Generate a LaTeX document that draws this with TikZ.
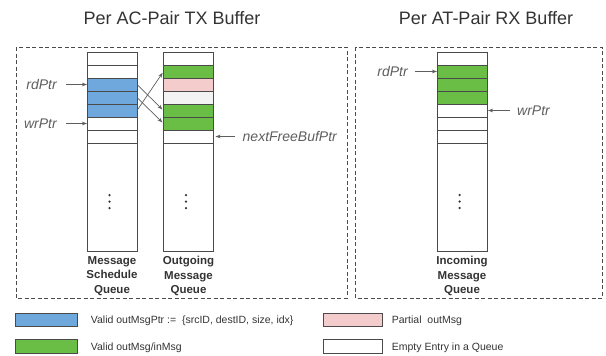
\documentclass[tikz,border=0pt]{standalone}
\usepackage{fontspec}
\setmainfont{Liberation Sans}
\usetikzlibrary{arrows.meta,calc}

\definecolor{cellblue}{HTML}{6FA8DC}
\definecolor{cellgreen}{HTML}{6ABD45}
\definecolor{cellpink}{HTML}{F4CCCC}
\definecolor{cellgray}{HTML}{F3F3F3}
\definecolor{edge}{HTML}{4A4A4A}
\definecolor{ink}{HTML}{333333}
\definecolor{ptr}{HTML}{5E5E5E}

\tikzset{
  cell/.style={draw=edge, line width=0.9pt, minimum width=50pt, minimum height=13pt,
    inner sep=0pt, outer sep=0pt, anchor=north west},
  tailcell/.style={cell, minimum height=108pt},
  region/.style={draw=edge, line width=0.8pt, dash pattern=on 4pt off 2.5pt},
  ptrlabel/.style={font=\fontsize{14}{16}\selectfont\itshape, text=ptr, inner sep=0pt,
    text height=10pt, text depth=0pt},
  ptrarrow/.style={draw=ptr, line width=0.7pt, -{Stealth[length=5pt,width=3.6pt]}},
  qlabel/.style={font=\fontsize{11.5}{14.5}\selectfont\bfseries, text=ink, align=center,
    inner sep=0pt, anchor=north},
  titlelabel/.style={font=\fontsize{18}{20}\selectfont, text=ink, inner sep=0pt},
  legtext/.style={font=\fontsize{10.5}{12}\selectfont, text=ink, anchor=west, inner sep=0pt,
    text height=7.5pt, text depth=0pt},
  legbox/.style={draw=edge, line width=0.8pt, minimum height=13.5pt, inner sep=0pt,
    outer sep=0pt, anchor=north west},
  dot/.style={fill=ink},
}

\begin{document}
\begin{tikzpicture}[x=1pt,y=-1pt]
\useasboundingbox (0,0) rectangle (606,356);

% dashed regions
\draw[region] (16,47) rectangle (347,298);
\draw[region] (355,47) rectangle (602,298);

% titles
\node[titlelabel] (txtitle) at (172,18) {Per AC-Pair TX Buffer};
\node[titlelabel] (rxtitle) at (486,18) {Per AT-Pair RX Buffer};

% message schedule queue
\foreach \c [count=\i] in {white,white,cellblue,cellblue,cellblue,white,white}
  \node[cell, fill=\c] (ms\i) at (87,{52+13*(\i-1)}) {};
\node[tailcell] (msb) at (87,143) {};

% outgoing message queue
\foreach \c [count=\i] in {white,cellgreen,cellpink,cellgray,cellgreen,cellgreen,white}
  \node[cell, fill=\c] (om\i) at (163.5,{52+13*(\i-1)}) {};
\node[tailcell] (omb) at (163.5,143) {};

% incoming message queue
\foreach \c [count=\i] in {white,cellgreen,cellgreen,cellgreen,white,white,white}
  \node[cell, fill=\c] (im\i) at (437,{52+13*(\i-1)}) {};
\node[tailcell] (imb) at (437,143) {};

% ellipsis dots inside the queue tails
\foreach \q in {msb,omb,imb}
  \foreach \dy in {-2,4.5,11}
    \fill[dot] ($(\q.center)+(-2.5,\dy)$) circle (1.25pt);

% queue captions
\node[qlabel] (msname) at ($(msb.south)+(0,5)$) {Message\\Schedule\\Queue};
\node[qlabel] (omname) at ($(omb.south)+(0,5)$) {Outgoing\\Message\\Queue};
\node[qlabel] (imname) at ($(imb.south)+(0,5)$) {Incoming\\Message\\Queue};

% pointers
\node[ptrlabel, anchor=east, xshift=-30pt] (txrd) at (ms3.west) {rdPtr};
\draw[ptrarrow, shorten <=9pt] (txrd.east) -- (ms3.west);
\node[ptrlabel, anchor=east, xshift=-30pt] (txwr) at (ms6.west) {wrPtr};
\draw[ptrarrow, shorten <=9pt] (txwr.east) -- (ms6.west);
\node[ptrlabel, anchor=west, xshift=29pt] (nfree) at (om7.east) {nextFreeBufPtr};
\draw[ptrarrow, shorten <=8pt, shorten >=2pt] (nfree.west) -- (om7.east);
\node[ptrlabel, anchor=east, xshift=-29pt] (rxrd) at (im2.west) {rdPtr};
\draw[ptrarrow, shorten <=7pt] (rxrd.east) -- (im2.west);
\node[ptrlabel, anchor=west, xshift=30pt] (rxwr) at (im5.east) {wrPtr};
\draw[ptrarrow, shorten <=7pt, shorten >=1pt] (rxwr.west) -- (im5.east);

% schedule entries referring to buffered messages
\draw[ptrarrow, shorten >=1.5pt] (ms3.east) -- (om5.west);
\draw[ptrarrow, shorten >=1.5pt] (ms4.east) -- (om6.west);
\draw[ptrarrow, shorten >=1.5pt] (ms5.east) -- (om2.west);

% legend
\node[legbox, minimum width=62pt, fill=cellblue] (lgblue) at (15,313) {};
\node[legtext, xshift=13.7pt] (lgbluetxt) at (lgblue.east) {Valid outMsgPtr :=\ \ \{srcID, destID, size, idx\}};
\node[legbox, minimum width=62pt, fill=cellgreen] (lggreen) at (15,339.5) {};
\node[legtext, xshift=13.7pt] (lggreentxt) at (lggreen.east) {Valid outMsg/inMsg};
\node[legbox, minimum width=59pt, fill=cellpink] (lgpink) at (323,313) {};
\node[legtext, xshift=9.7pt] (lgpinktxt) at (lgpink.east) {Partial\ \ outMsg};
\node[legbox, minimum width=59pt, fill=white] (lgempty) at (323,339.5) {};
\node[legtext, xshift=9.7pt] (lgemptytxt) at (lgempty.east) {Empty Entry in a Queue};
\end{tikzpicture}
\end{document}
